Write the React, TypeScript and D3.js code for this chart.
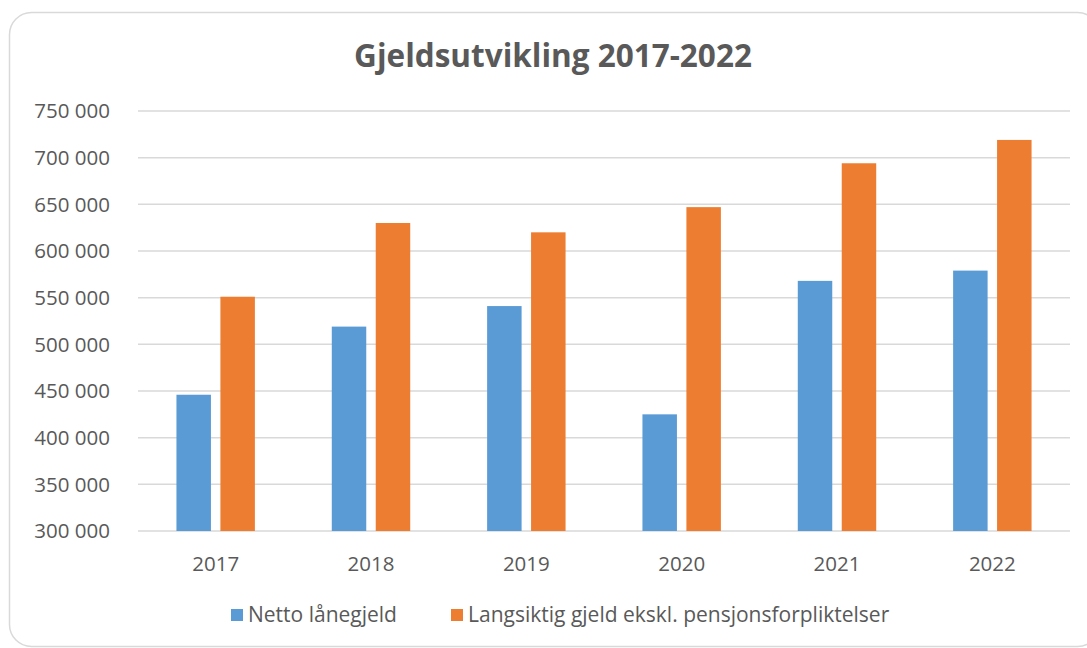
import { useEffect, useRef } from 'react';
import * as d3 from 'd3';

const years = ['2017', '2018', '2019', '2020', '2021', '2022'];
const nettoLanegjeld = [446000, 519000, 541000, 425000, 568000, 579000];
const langsiktigGjeld = [551000, 630000, 620000, 647000, 694000, 719000];
const seriesNames = ['Netto lånegjeld', 'Langsiktig gjeld ekskl. pensjonsforpliktelser'];
const yTicks = [300000, 350000, 400000, 450000, 500000, 550000, 600000, 650000, 700000, 750000];

const colors = ['#5B9BD5', '#ED7D31'];
const textColor = '#595959';
const gridColor = '#D9D9D9';
const font = '"Open Sans", sans-serif';

export default function App() {
  const svgRef = useRef<SVGSVGElement>(null);

  useEffect(() => {
    if (!svgRef.current) return;
    const plot = { left: 138, right: 1070, top: 111, bottom: 531 };

    const svg = d3.select(svgRef.current);
    svg.selectAll('*').remove();

    // chart frame
    svg
      .append('rect')
      .attr('x', 9.5)
      .attr('y', 12.5)
      .attr('width', 1090)
      .attr('height', 634)
      .attr('rx', 22)
      .attr('fill', '#fff')
      .attr('stroke', gridColor)
      .attr('stroke-width', 1.5);

    svg
      .append('text')
      .attr('x', 553)
      .attr('y', 67)
      .attr('text-anchor', 'middle')
      .attr('font-family', font)
      .attr('font-weight', 700)
      .attr('font-size', 31.5)
      .attr('fill', textColor)
      .text('Gjeldsutvikling 2017-2022');

    const x = d3.scaleBand<string>().domain(years).range([plot.left, plot.right]);
    const y = d3.scaleLinear().domain([300000, 750000]).range([plot.bottom, plot.top]);

    const fmt = (v: number) => d3.format(',')(v).replace(/,/g, ' ');

    const grid = svg.append('g');
    grid
      .selectAll('line')
      .data(yTicks)
      .enter()
      .append('line')
      .attr('x1', plot.left)
      .attr('x2', plot.right)
      .attr('y1', (d) => y(d))
      .attr('y2', (d) => y(d))
      .attr('stroke', gridColor)
      .attr('stroke-width', 1.5);

    grid
      .selectAll('text')
      .data(yTicks)
      .enter()
      .append('text')
      .attr('x', 110)
      .attr('y', (d) => y(d))
      .attr('dy', '0.35em')
      .attr('text-anchor', 'end')
      .attr('font-family', font)
      .attr('font-size', 20.5)
      .attr('fill', textColor)
      .text((d) => fmt(d));

    const barW = x.bandwidth() * 0.222;
    const gap = x.bandwidth() * 0.061;
    const series = [nettoLanegjeld, langsiktigGjeld];

    series.forEach((vals, si) => {
      svg
        .append('g')
        .selectAll('rect')
        .data(vals)
        .enter()
        .append('rect')
        .attr('x', (_, i) => {
          const c = (x(years[i]) ?? 0) + x.bandwidth() / 2;
          return si === 0 ? c - gap / 2 - barW : c + gap / 2;
        })
        .attr('y', (d) => y(d))
        .attr('width', barW)
        .attr('height', (d) => y(300000) - y(d))
        .attr('fill', colors[si]);
    });

    svg
      .append('g')
      .selectAll('text')
      .data(years)
      .enter()
      .append('text')
      .attr('x', (d) => (x(d) ?? 0) + x.bandwidth() / 2)
      .attr('y', 571)
      .attr('text-anchor', 'middle')
      .attr('font-family', font)
      .attr('font-size', 20.5)
      .attr('fill', textColor)
      .text((d) => d);

    // legend
    const legendX = [231, 451];
    const legend = svg.append('g');
    seriesNames.forEach((name, i) => {
      legend
        .append('rect')
        .attr('x', legendX[i])
        .attr('y', 609)
        .attr('width', 12)
        .attr('height', 12)
        .attr('fill', colors[i]);
      legend
        .append('text')
        .attr('x', legendX[i] + 17)
        .attr('y', 622)
        .attr('font-family', font)
        .attr('font-size', 21)
        .attr('fill', textColor)
        .text(name);
    });
  }, []);

  return (
    <svg
      ref={svgRef}
      width={1087}
      height={648}
      style={{ position: 'absolute', left: 0, top: 0, display: 'block' }}
    />
  );
}
